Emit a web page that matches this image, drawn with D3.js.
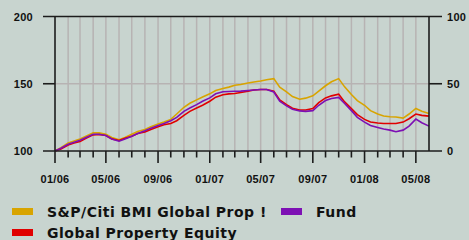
<!DOCTYPE html>
<html>
<head>
<meta charset="utf-8">
<script src="https://cdn.jsdelivr.net/npm/d3@7"></script>
<style>
  html, body { margin: 0; padding: 0; background: #c8d4cf; }
  svg { display: block; }
  .tick-label { font-family: "Liberation Sans", Arial, sans-serif; font-weight: bold; font-size: 11px; fill: #111; letter-spacing: 0.3px; }
  .legend { font-family: "DejaVu Sans", sans-serif; font-weight: bold; font-size: 14px; fill: #111; letter-spacing: 0.5px; }
</style>
</head>
<body>
<svg id="chart" width="469" height="240"></svg>
<script>
// half-month steps starting 01/06
const startDate = new Date(2006, 0, 1);
const steps = 59;

const seriesNames = ['S&P/Citi BMI Global Prop !', 'Fund', 'Global Property Equity'];
const seriesColors = ['#d8a400', '#7d10b4', '#e00000'];

const spCiti = [100, 102.5, 106, 107.5, 109, 111, 113.5, 113.5, 112.5, 110,
  108.3, 110, 112.5, 114.5, 116, 118, 120, 121.5, 123.5, 127.5,
  132.5, 135.5, 138, 140.2, 142.5, 145, 146.5, 147.5, 148.9, 149.5,
  150.5, 151.3, 152, 153, 153.8, 147.5, 144, 140.5, 138.5, 139.3,
  141, 144.5, 148.5, 151.5, 153.8, 147.7, 142, 137.5, 134, 130,
  127.5, 126, 125.5, 125.3, 124.5, 127.5, 131.6, 129.5, 127.9];

const fund = [100, 102, 105, 106.5, 108, 110, 112.5, 112.5, 111.5, 109,
  107.3, 109, 111, 113, 115, 117, 119, 120.5, 122.5, 125,
  129.5, 132, 134.5, 137, 139.5, 142.5, 144, 144.2, 144.4, 144.5,
  145, 145.3, 145.7, 145.7, 143.9, 137, 133.5, 131, 129.8, 129.5,
  130, 134, 137.5, 139, 139.8, 135.3, 130, 125, 121.5, 119,
  117.5, 116.3, 115.5, 114.3, 115.5, 118.5, 123.7, 121, 118.5];

const globalEquity = [100, 101.5, 104.5, 106, 107, 109.5, 112, 112.3, 111.5, 109,
  107.8, 109.5, 111, 113, 114.2, 116, 118, 119.5, 120.5, 122.5,
  126.5, 129.5, 132, 134, 137, 140, 141.8, 142.5, 142.7, 143.5,
  144.5, 145.3, 145.7, 145.7, 144.5, 138, 134.5, 131.8, 130.5, 130.5,
  131.5, 136, 139.5, 141, 142.2, 136.5, 131.5, 127, 123.5, 121.5,
  120.8, 120.5, 120.5, 120.5, 121.5, 124, 127.5, 126.5, 125.9];

const leftTicks = [100, 150, 200];
const rightTicks = [0, 50, 100];

const dates = d3.range(steps).map(i => {
  const m = d3.timeMonth.offset(startDate, Math.floor(i / 2));
  return i % 2 ? d3.timeDay.offset(m, 14) : m;
});

const svg = d3.select('#chart');
const plotLeft = 55, plotRight = 429, plotTop = 16.5, plotBottom = 151;

const x = d3.scaleTime()
  .domain([startDate, new Date(2008, 5, 1)])
  .range([plotLeft, plotRight]);
const y = d3.scaleLinear().domain([100, 200]).range([plotBottom, plotTop]);
const yR = d3.scaleLinear().domain([0, 100]).range([plotBottom, plotTop]);

const months = d3.timeMonth.range(startDate, new Date(2008, 5, 2));

// vertical grid
svg.append('g').selectAll('line')
  .data(months.slice(1, -1))
  .enter().append('line')
  .attr('x1', d => x(d)).attr('x2', d => x(d))
  .attr('y1', plotTop).attr('y2', plotBottom)
  .attr('stroke', '#b7b3b3').attr('stroke-width', 1.5);

// horizontal grid
svg.append('line')
  .attr('x1', plotLeft).attr('x2', plotRight)
  .attr('y1', y(150)).attr('y2', y(150))
  .attr('stroke', '#b7b3b3').attr('stroke-width', 1.5);

// series
const line = d3.line().x((d, i) => x(dates[i])).y(d => y(d));
[[spCiti, seriesColors[0]], [globalEquity, seriesColors[2]], [fund, seriesColors[1]]].forEach(([vals, c]) => {
  svg.append('path')
    .datum(vals)
    .attr('d', line)
    .attr('fill', 'none')
    .attr('stroke', c)
    .attr('stroke-width', 1.6);
});

// axes frame
const ax = svg.append('g').attr('stroke', '#1c1c1c').attr('stroke-width', 1.6);
ax.append('line').attr('x1', plotLeft - 12).attr('x2', plotRight + 13).attr('y1', plotTop).attr('y2', plotTop);
ax.append('line').attr('x1', plotLeft - 12).attr('x2', plotRight + 13).attr('y1', plotBottom).attr('y2', plotBottom);
ax.append('line').attr('x1', plotLeft).attr('x2', plotLeft).attr('y1', plotTop).attr('y2', plotBottom);
ax.append('line').attr('x1', plotRight).attr('x2', plotRight).attr('y1', plotTop).attr('y2', plotBottom);
ax.append('line').attr('x1', plotLeft - 12).attr('x2', plotLeft).attr('y1', y(150)).attr('y2', y(150));
ax.append('line').attr('x1', plotRight).attr('x2', plotRight + 13).attr('y1', y(150)).attr('y2', y(150));

// month ticks
ax.selectAll('.mt')
  .data(months.slice(0, -1))
  .enter().append('line')
  .attr('x1', d => x(d)).attr('x2', d => x(d))
  .attr('y1', plotBottom)
  .attr('y2', d => d.getMonth() % 4 === 0 ? plotBottom + 12 : plotBottom + 6.5);

// tick labels
svg.append('g').selectAll('text')
  .data(leftTicks)
  .enter().append('text')
  .attr('class', 'tick-label')
  .attr('x', 33).attr('y', d => y(d) + 4)
  .attr('text-anchor', 'end')
  .text(d => d);

svg.append('g').selectAll('text')
  .data(rightTicks)
  .enter().append('text')
  .attr('class', 'tick-label')
  .attr('x', 447).attr('y', d => yR(d) + 4)
  .text(d => d);

const fmt = d3.timeFormat('%m/%y');
svg.append('g').selectAll('text')
  .data(months.filter(d => d.getMonth() % 4 === 0))
  .enter().append('text')
  .attr('class', 'tick-label')
  .attr('x', d => x(d)).attr('y', 183)
  .attr('text-anchor', 'middle')
  .text(d => fmt(d));

// legend
const legendItems = [
  { name: seriesNames[0], color: seriesColors[0], lx: 12, ly: 208 },
  { name: seriesNames[1], color: seriesColors[1], lx: 281, ly: 208 },
  { name: seriesNames[2], color: seriesColors[2], lx: 12, ly: 229 }
];
const lg = svg.append('g').selectAll('g').data(legendItems).enter().append('g');
lg.append('rect')
  .attr('x', d => d.lx).attr('y', d => d.ly)
  .attr('width', 21).attr('height', 7)
  .attr('fill', d => d.color);
lg.append('text')
  .attr('class', 'legend')
  .attr('x', d => d.lx + 35).attr('y', d => d.ly + 9)
  .text(d => d.name);
</script>
</body>
</html>
